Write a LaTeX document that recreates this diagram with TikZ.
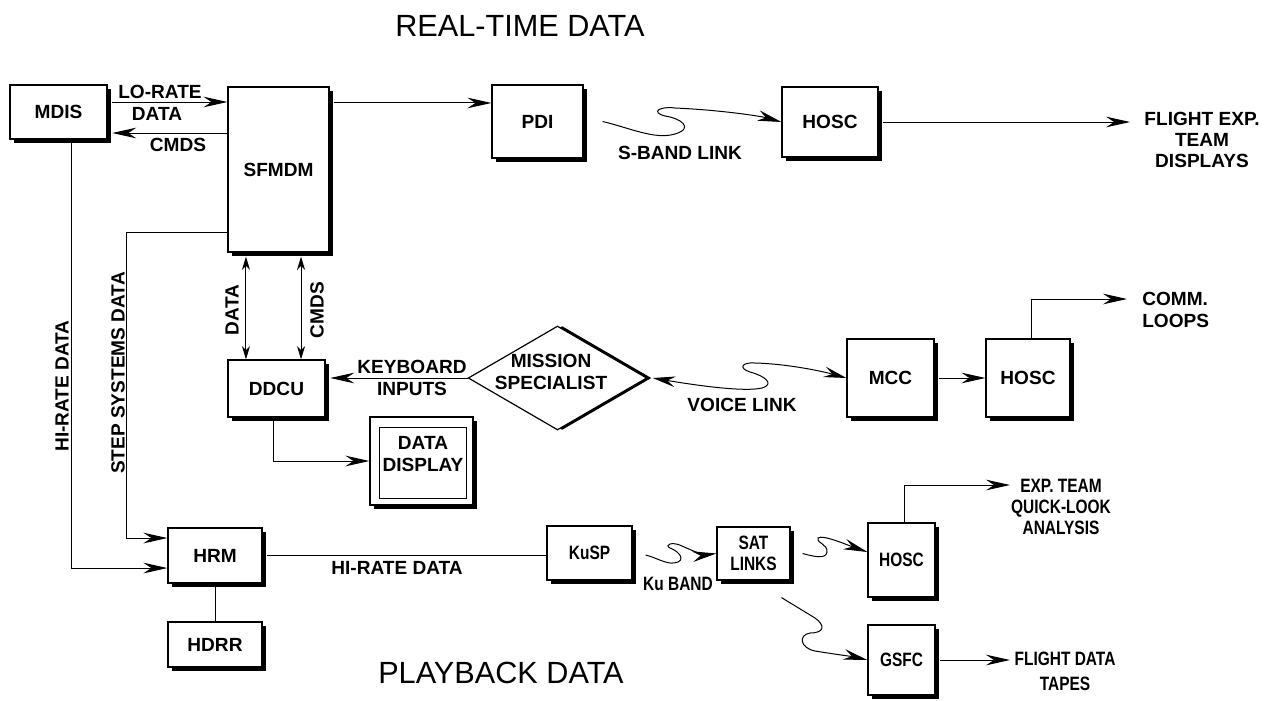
\documentclass[tikz,border=0pt]{standalone}
\usepackage{fontspec}
\setmainfont{Liberation Sans}
\newfontfamily\narrowsans[FakeStretch=0.8]{Liberation Sans}
\usetikzlibrary{shapes.geometric,shadows,fit,arrows.meta,calc}
\begin{document}
\begin{tikzpicture}[x=0.75pt,y=-0.75pt,
  lbl/.style={font=\bfseries\fontsize{14.3}{16}\selectfont, align=center, inner sep=0pt},
  lbls/.style={font=\narrowsans\bfseries\fontsize{14.5}{16}\selectfont, align=center, inner sep=0pt},
  box/.style={draw, line width=0.9pt, fill=white, inner sep=0pt,
    drop shadow={opacity=1, fill=black, shadow xshift=3pt, shadow yshift=-3pt}},
  conn/.style={line width=0.75pt},
  arr/.style={conn, -{Stealth[length=18pt,width=8pt,inset=6pt]}},
  darr/.style={conn, {Stealth[length=10pt,width=6pt,inset=3pt]}-{Stealth[length=10pt,width=6pt,inset=3pt]}},
  warr/.style={conn, {Stealth[length=17pt,width=8pt,inset=6pt]}-{Stealth[length=17pt,width=8pt,inset=6pt]}},
  ttl/.style={font=\fontsize{23}{26}\selectfont, inner sep=0pt}
]
\useasboundingbox (0,0) rectangle (1269,700);

% titles
\node[ttl, anchor=base west] (rt) at (395,36) {REAL-TIME DATA};
\node[ttl, anchor=base west] (pb) at (378,683) {PLAYBACK DATA};

% boxes
\node[box, fit={(10,85) (107,139)}, label={[lbl]center:MDIS}] (MDIS) {};
\node[box, fit={(228,87) (329,252)}, label={[lbl]center:SFMDM}] (SFMDM) {};
\node[box, fit={(492,85) (583,158)}, label={[lbl]center:PDI}] (PDI) {};
\node[box, fit={(782,87) (878,157)}, label={[lbl]center:HOSC}] (HOSC1) {};
\node[box, fit={(228,360) (325,417)}, label={[lbl]center:DDCU}] (DDCU) {};
\node[box, fit={(370,417) (473,505)}] (DD) {};
\node[draw, line width=0.6pt, inner sep=0pt, fit={(379,427) (466,498)}] (DDin) {};
\node[lbl] (DDtxt) at (423,454) {DATA\\DISPLAY};
\node[draw, diamond, line width=0.9pt, fill=white, minimum width=134pt, minimum height=78pt, inner sep=0pt,
  drop shadow={opacity=1, fill=black, shadow xshift=3.5pt, shadow yshift=0pt}] (MS) at (557.5,378) {};
\node[lbl] (MStxt) at (551,372) {MISSION\\SPECIALIST};
\node[box, fit={(847,339) (934,417)}, label={[lbl]center:MCC}] (MCC) {};
\node[box, fit={(986,339) (1070,417)}, label={[lbl]center:HOSC}] (HOSC2) {};
\node[box, fit={(168,528) (262,583)}, label={[lbl]center:HRM}] (HRM) {};
\node[box, fit={(168,622) (262,667)}, label={[lbl]center:HDRR}] (HDRR) {};
\node[box, fit={(547,526) (632,580)}, label={[lbls]center:KuSP}] (KUSP) {};
\node[box, fit={(717,527) (790,580)}, label={[lbls]center:{SAT\\LINKS}}] (SAT) {};
\node[box, fit={(868,523) (935,597)}, label={[lbls]center:HOSC}] (HOSC3) {};
\node[box, fit={(868,625) (935,695)}, label={[lbls]center:GSFC}] (GSFC) {};

% MDIS <-> SFMDM
\draw[arr] ([yshift=7.5pt,xshift=3pt]MDIS.east) -- ([yshift=7.5pt]MDIS.east -| SFMDM.west);
\draw[arr] ([yshift=-15.75pt]MDIS.east -| SFMDM.west) -- ([yshift=-15.75pt,xshift=3.5pt]MDIS.east);
\node[lbl] (lorate) at (160,92) {LO-RATE};
\node[lbl] (lodata) at (157,114) {DATA};
\node[lbl] (locmds) at (178,145) {CMDS};

% SFMDM -> PDI
\draw[arr] ([yshift=13.9pt,xshift=3pt]PDI.west -| SFMDM.east) -- ([yshift=13.9pt]PDI.west);

% S-band link
\draw[arr] ([xshift=14.25pt]PDI.east) .. controls (630,128) and (655,140) .. (675,134)
  .. controls (695,128) and (680,118) .. (665,116)
  .. controls (650,112) and (660,106) .. (675,108)
  .. controls (720,110) and (760,116) .. (HOSC1.west);
\node[lbl] (sband) at (680,153) {S-BAND LINK};

% HOSC1 -> displays
\coordinate (fe) at (1130,122);
\draw[arr] ([xshift=3pt]HOSC1.east) -- (fe);
\node[lbl] (fetd) at (1202,140) {FLIGHT EXP.\\TEAM\\DISPLAYS};

% step systems data
\draw[arr] ([yshift=-46.9pt]SFMDM.west) -- ++(-101,0) |- ([yshift=13.1pt]HRM.west);
\node[lbl, rotate=90] (ssd) at (118,373) {STEP SYSTEMS DATA};

% MDIS hi-rate data
\draw[arr] ([xshift=10.1pt]MDIS.south) |- ([yshift=-9.4pt]HRM.west);
\node[lbl, rotate=90] (hrl) at (62,386) {HI-RATE DATA};

% SFMDM <-> DDCU
\draw[darr, shorten <=3pt] ([xshift=-24.4pt]SFMDM.south) -- ([xshift=-24.4pt]SFMDM.south |- DDCU.north);
\draw[darr, shorten <=3pt] ([xshift=16.9pt]SFMDM.south) -- ([xshift=16.9pt]SFMDM.south |- DDCU.north);
\node[lbl, rotate=90] (dl) at (232,310) {DATA};
\node[lbl, rotate=90] (cl2) at (317,310) {CMDS};

% keyboard inputs
\draw[arr] (MS.west) -- ([xshift=3.5pt]MS.west -| DDCU.east);
\node[lbl] (kb) at (412,378) {KEYBOARD\\INPUTS};

% DDCU -> data display
\draw[arr] ([xshift=-2.6pt]DDCU.south) |- (DD.west);

% voice link
\draw[warr] ([xshift=4pt]MS.east) .. controls (700,386) and (745,392) .. (762,388)
  .. controls (775,384) and (765,376) .. (750,372)
  .. controls (738,368) and (742,362) .. (755,363)
  .. controls (790,364) and (825,372) .. (MCC.west);
\node[lbl] (voice) at (742,405) {VOICE LINK};

% MCC -> HOSC2
\draw[arr] ([xshift=3pt]MCC.east) -- (HOSC2.west);
\coordinate (cloop) at (1127,299);
\draw[arr] ([xshift=2.25pt]HOSC2.north) |- (cloop);
\node[lbl, anchor=west, align=left, font=\bfseries\fontsize{14.3}{17}\selectfont] (comm) at (1142,310) {COMM.\\LOOPS};

% HRM - KuSP, HRM - HDRR
\draw[conn] ([xshift=3pt]HRM.east) -- (HRM.east -| KUSP.west);
\node[lbl] (hrd) at (397,568) {HI-RATE DATA};
\draw[conn] (HRM.south) -- (HDRR.north);

% Ku band
\draw[arr] ([xshift=9.75pt,yshift=-1.5pt]KUSP.east) .. controls (658,558) and (668,566) .. (678,562)
  .. controls (686,558) and (676,550) .. (670,548)
  .. controls (664,545) and (672,541) .. (682,546)
  .. controls (695,552) and (705,555) .. (SAT.west);
\node[lbls] (ku) at (678,584) {Ku BAND};

% SAT -> HOSC3
\draw[arr] ([xshift=9pt]SAT.east) .. controls (812,556) and (826,560) .. (827,552)
  .. controls (828,544) and (815,542) .. (818,538)
  .. controls (822,534) and (850,546) .. ([yshift=6pt]HOSC3.west);

% SAT -> GSFC
\draw[arr] ([xshift=21pt,yshift=-12.75pt]SAT.south) -- (815,618)
  .. controls (825,625) and (825,633) .. (810,633)
  .. controls (798,635) and (800,648) .. (815,651)
  .. controls (840,655) and (855,657) .. (GSFC.west);

% HOSC3 -> quick look
\coordinate (eq) at (1010,485);
\draw[arr] ([xshift=1.9pt]HOSC3.north) |- (eq);
\node[lbls] (eqla) at (1061,507) {EXP. TEAM\\QUICK-LOOK\\ANALYSIS};

% GSFC -> tapes
\coordinate (fd) at (1010,660);
\draw[arr] ([xshift=3pt]GSFC.east) -- (fd);
\node[lbls, font=\narrowsans\bfseries\fontsize{14.5}{18.5}\selectfont] (fdt) at (1065,671) {FLIGHT DATA\\TAPES};
\end{tikzpicture}
\end{document}
